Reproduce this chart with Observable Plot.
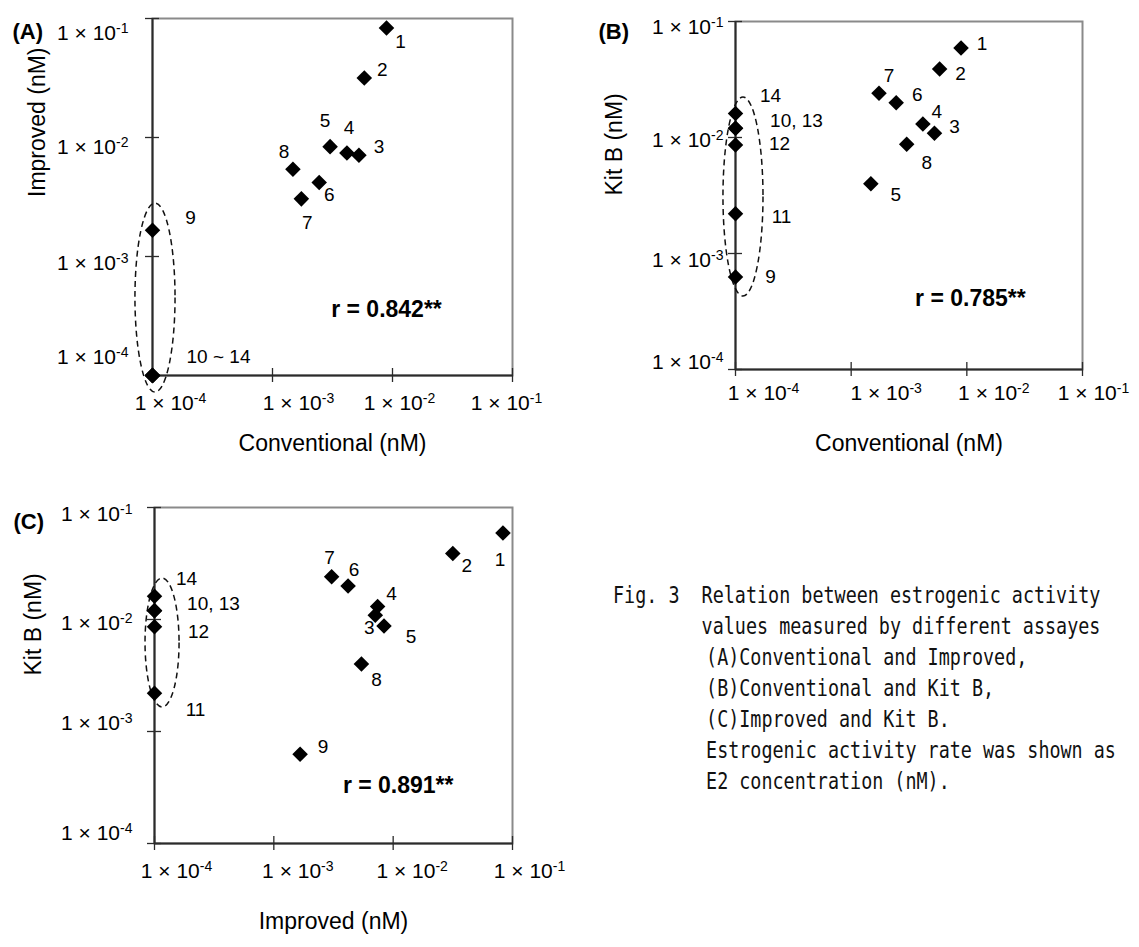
<!DOCTYPE html>
<html><head><meta charset="utf-8">
<script src="https://cdn.jsdelivr.net/npm/d3@7"></script>
<script src="https://cdn.jsdelivr.net/npm/@observablehq/plot@0.6"></script>
<style>
html,body{margin:0;padding:0;background:#fff}
body{width:1139px;height:947px;position:relative;overflow:hidden;font-family:"Liberation Sans",Arial,sans-serif}
.panel{position:absolute}
.panel svg{overflow:visible}
#caption{position:absolute;left:613px;top:580px;font-family:"DejaVu Sans Mono",monospace;font-size:23px;line-height:31px;white-space:pre;transform:scaleX(0.8);transform-origin:0 0;color:#111}
#caption .ind{padding-left:8ch}
#caption .ind2{padding-left:8.4ch}
</style></head><body>
<div id="pA" class="panel" style="left:0;top:0"></div>
<div id="pB" class="panel" style="left:580px;top:0"></div>
<div id="pC" class="panel" style="left:0;top:470px"></div>
<div id="caption"><div>Fig. 3  Relation between estrogenic activity</div><div class="ind">values measured by different assayes</div><div class="ind2">(A)Conventional and Improved,</div><div class="ind2">(B)Conventional and Kit B,</div><div class="ind2">(C)Improved and Kit B.</div><div class="ind2">Estrogenic activity rate was shown as</div><div class="ind2">E2 concentration (nM).</div></div>
<script>
// ---------- data (nM) ----------
const samples = ["1","2","3","4","5","6","7","8","9","10","11","12","13","14"];
const conventional = [0.00891, 0.00582, 0.00525, 0.00417, 0.00302, 0.00245, 0.00174, 0.00148, 0.0001, 0.0001, 0.0001, 0.0001, 0.0001, 0.0001];
const improved     = [0.0832, 0.0316, 0.00708, 0.00741, 0.00838, 0.00419, 0.00305, 0.00542, 0.00166, 0.0001, 0.0001, 0.0001, 0.0001, 0.0001];
const kitB         = [0.0592, 0.0389, 0.01089, 0.01309, 0.00875, 0.01995, 0.0241, 0.0040, 0.000627, 0.0120, 0.0022, 0.00861, 0.0120, 0.0161];

const labelsA = ["1","2","3","4","5","6","7","8","9","10 ~ 14","","","",""];
const labelsB = ["1","2","3","4","8","6","7","5","9","10, 13","11","12","","14"];
const labelsC = ["1","2","3","4","5","6","7","8","9","10, 13","11","12","","14"];

const tickValues = [1e-4, 1e-3, 1e-2, 1e-1];
const tickLabels = ["1 × 10^-4", "1 × 10^-3", "1 × 10^-2", "1 × 10^-1"];

const correlations = ["r = 0.842**", "r = 0.785**", "r = 0.891**"];

// ---------- layout / annotation config (tick offsets in tickValues order) ----------
const panels = [
  {id: "pA", letter: "(A)", xv: conventional, yv: improved, labels: labelsA,
   xTitle: "Conventional (nM)", yTitle: "Improved (nM)", r: correlations[0],
   rPos: [0.00891, 3.59e-4],
   ellipse: {x: [7.21e-5, 1.556e-4], y: [7.19e-5, 2.786e-3]},
   width: 560, height: 470, m: [18, 48, 95, 152],
   off: [[14,14],[18,-8],[20,-8],[2,-25],[-5,-26],[10,12],[6,24],[-9,-17],[38,-12],[66,-19],[0,0],[0,0],[0,0],[0,0]],
   xTickDx: [18,26,7,-6], xTickDy: 28, yTickDx: -24, yTickDy: [-18,7,10,15],
   xTitleDy: 75, yTitleDx: -115, letterD: [-140, 5]},
  {id: "pB", letter: "(B)", xv: conventional, yv: kitB, labels: labelsB,
   xTitle: "Conventional (nM)", yTitle: "Kit B (nM)", r: correlations[1],
   rPos: [0.01074, 4.09e-4],
   ellipse: {x: [7.87e-5, 1.746e-4], y: [4.26e-4, 0.02213]},
   width: 559, height: 470, m: [21, 57, 101, 155],
   off: [[21,-4],[21,5],[20,-6],[14,-12],[20,19],[21,-8],[10,-17],[25,11],[35,0],[61,-7],[46,3],[44,-1],[0,0],[35,-18]],
   xTickDx: [28,35,27,11], xTickDy: 24, yTickDx: -12, yTickDy: [-7,7,3,6],
   xTitleDy: 81, yTitleDx: -121, letterD: [-137, 2]},
  {id: "pC", letter: "(C)", xv: improved, yv: kitB, labels: labelsC,
   xTitle: "Improved (nM)", yTitle: "Kit B (nM)", r: correlations[2],
   rPos: [0.01102, 3.31e-4],
   ellipse: {x: [8.41e-5, 1.622e-4], y: [1.637e-3, 0.02323]},
   width: 560, height: 477, m: [37, 48, 104, 154],
   off: [[-3,27],[14,12],[-6,13],[14,-12],[27,11],[6,-16],[-2,-19],[15,16],[23,-7],[59,-7],[41,17],[44,5],[0,0],[32,-17]],
   xTickDx: [22,24,19,17], xTickDy: 28, yTickDx: -22, yTickDy: [-10,-8,4,7],
   xTitleDy: 85, yTitleDx: -121, letterD: [-141, 6]}
];

const AXIS = "#2b2b2b", FRAME = "#8a8a8a";
const lo = 1e-4;

function superscripts(svg) {
  d3.select(svg).selectAll("text").each(function() {
    const t = this.textContent;
    if (t.includes("^")) {
      const [base, exp] = t.split("^");
      const sel = d3.select(this);
      sel.text(null);
      sel.append("tspan").text(base);
      sel.append("tspan").attr("dy", "-0.55em").attr("font-size", "14px").text(exp);
    }
  });
}

for (const p of panels) {
  const idx = d3.range(samples.length);
  const marks = [
    Plot.frame({stroke: FRAME, strokeWidth: 2}),
    Plot.ruleX([lo], {stroke: AXIS, strokeWidth: 2}),
    Plot.ruleY([lo], {stroke: AXIS, strokeWidth: 2}),
    Plot.ruleX(tickValues, {x: d => d, y1: () => lo, y2: () => lo, insetTop: -7, insetBottom: -7, stroke: AXIS, strokeWidth: 1.3}),
    Plot.ruleY(tickValues, {y: d => d, x1: () => lo, x2: () => lo, insetLeft: -7, insetRight: -7, stroke: AXIS, strokeWidth: 1.3}),
  ];
  tickValues.forEach((v, j) => {
    marks.push(Plot.text([v], {x: d => d, y: () => lo, text: () => tickLabels[j], dx: p.xTickDx[j], dy: p.xTickDy, fontSize: 21}));
    marks.push(Plot.text([v], {x: () => lo, y: d => d, text: () => tickLabels[j], textAnchor: "end", dx: p.yTickDx, dy: p.yTickDy[j], fontSize: 21}));
  });
  marks.push(
    Plot.text([p.xTitle], {frameAnchor: "bottom", dy: p.xTitleDy, fontSize: 23}),
    Plot.text([p.yTitle], {frameAnchor: "left", rotate: -90, dx: p.yTitleDx, fontSize: 23}),
    Plot.text([p.letter], {frameAnchor: "top-left", textAnchor: "start", dx: p.letterD[0], dy: p.letterD[1], fontSize: 22, fontWeight: "bold"}),
    Plot.text([p.r], {x: () => p.rPos[0], y: () => p.rPos[1], fontSize: 23, fontWeight: "bold"}),
    Plot.dot(idx, {x: i => p.xv[i], y: i => p.yv[i], symbol: "diamond2", r: 7, fill: "black", stroke: "none"})
  );
  idx.forEach(i => {
    if (!p.labels[i]) return;
    marks.push(Plot.text([i], {x: k => p.xv[k], y: k => p.yv[k], text: k => p.labels[k], dx: p.off[i][0], dy: p.off[i][1], fontSize: 19}));
  });

  const svg = Plot.plot({
    width: p.width, height: p.height,
    marginTop: p.m[0], marginRight: p.m[1], marginBottom: p.m[2], marginLeft: p.m[3],
    x: {type: "log", domain: [1e-4, 1e-1], axis: null},
    y: {type: "log", domain: [1e-4, 1e-1], axis: null},
    style: {fontFamily: "'Liberation Sans', Arial, sans-serif", fontSize: "21px", background: "transparent", color: "black", overflow: "visible"},
    marks
  });
  superscripts(svg);

  // dashed ellipse grouping the below-detection samples, positioned with the plot's own scales
  const sx = svg.scale("x"), sy = svg.scale("y");
  const fx = sx.apply ? v => sx.apply(v) : d3.scaleLog(sx.domain, sx.range);
  const fy = sy.apply ? v => sy.apply(v) : d3.scaleLog(sy.domain, sy.range);
  const x0 = fx(p.ellipse.x[0]), x1 = fx(p.ellipse.x[1]);
  const y0 = fy(p.ellipse.y[0]), y1 = fy(p.ellipse.y[1]);
  const ell = document.createElementNS("http://www.w3.org/2000/svg", "ellipse");
  ell.setAttribute("cx", (x0 + x1) / 2);
  ell.setAttribute("cy", (y0 + y1) / 2);
  ell.setAttribute("rx", Math.abs(x1 - x0) / 2);
  ell.setAttribute("ry", Math.abs(y1 - y0) / 2);
  ell.setAttribute("fill", "none");
  ell.setAttribute("stroke", "#111");
  ell.setAttribute("stroke-width", "1.5");
  ell.setAttribute("stroke-dasharray", "6,4");
  const dotG = svg.querySelector('g[aria-label="dot"]');
  if (dotG) svg.insertBefore(ell, dotG); else svg.appendChild(ell);

  document.getElementById(p.id).appendChild(svg);
}
</script>
</body></html>
